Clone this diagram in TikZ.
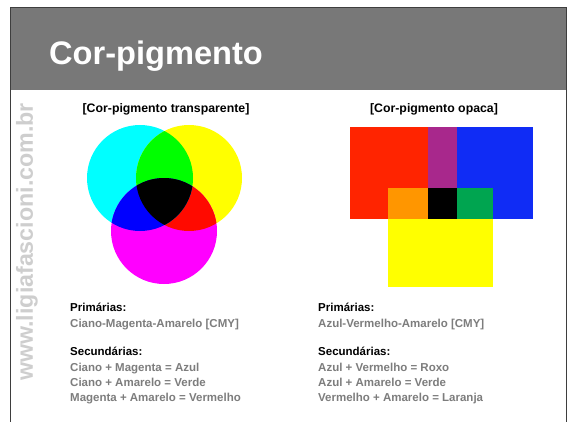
\documentclass[tikz,border=0pt]{standalone}
\usepackage{fontspec}
\setmainfont{Liberation Sans}
\definecolor{bargray}{RGB}{120,120,120}
\definecolor{bardark}{RGB}{62,62,62}
\definecolor{wmgray}{RGB}{206,206,206}
\definecolor{txtgray}{RGB}{125,125,125}
\definecolor{cC}{RGB}{0,255,255}
\definecolor{cY}{RGB}{255,255,0}
\definecolor{cM}{RGB}{255,0,255}
\definecolor{cG}{RGB}{0,255,0}
\definecolor{cB}{RGB}{0,0,255}
\definecolor{cR}{RGB}{255,10,0}
\definecolor{oRed}{RGB}{255,36,0}
\definecolor{oBlue}{RGB}{16,44,245}
\definecolor{oPurple}{RGB}{168,40,140}
\definecolor{oOrange}{RGB}{255,150,0}
\definecolor{oGreen}{RGB}{0,165,80}
\definecolor{oYellow}{RGB}{255,255,0}
\begin{document}
\begin{tikzpicture}[x=1pt,y=-1pt,
  head/.style={anchor=base, inner sep=0pt, font=\fontsize{12.3}{14}\selectfont\bfseries, text=black},
  lblbold/.style={anchor=base west, inner sep=0pt, font=\fontsize{11.5}{14}\selectfont\bfseries, text=black},
  lblgray/.style={anchor=base west, inner sep=0pt, font=\fontsize{11.5}{14}\selectfont\bfseries, text=txtgray},
  frameline/.style={draw=bardark, line width=1.5pt}]
\useasboundingbox (0,0) rectangle (569,422);
\fill[white] (0,0) rectangle (569,422);
% frame and title bar
\fill[bargray] (10,7) rectangle (567,90);
\draw[frameline] (10.5,422) -- (10.5,7.5) -- (566.5,7.5) -- (566.5,422);
\node[anchor=base west, inner sep=0pt, font=\fontsize{32.6}{38}\selectfont\bfseries, text=white] (title) at (49,65) {Cor-pigmento};
% watermark
\node[rotate=90, inner sep=0pt, font=\fontsize{23.2}{26}\selectfont\bfseries, text=wmgray] (wm) at (27,242) {www.ligiafascioni.com.br};
% headings
\node[head] (h1) at (166,113) {[Cor-pigmento transparente]};
\node[head] (h2) at (434,113) {[Cor-pigmento opaca]};
% transparent circles
\coordinate (cc) at (140,178);
\coordinate (yc) at (189,178);
\coordinate (mc) at (164,231);
\fill[cC] (cc) circle[radius=53pt];
\fill[cY] (yc) circle[radius=53pt];
\fill[cM] (mc) circle[radius=53pt];
\begin{scope}
  \clip (yc) circle[radius=53pt];
  \fill[cR] (mc) circle[radius=53pt];
\end{scope}
\begin{scope}
  \clip (cc) circle[radius=53pt];
  \fill[cG] (yc) circle[radius=53pt];
  \fill[cB] (mc) circle[radius=53pt];
  \clip (yc) circle[radius=53pt];
  \fill[black] (mc) circle[radius=53pt];
\end{scope}
% opaque rectangles
\fill[oRed] (350,127) rectangle (428,219);
\fill[oPurple] (428,127) rectangle (457,188);
\fill[oBlue] (457,127) rectangle (533,219);
\fill[oYellow] (388,219) rectangle (493,287);
\fill[oOrange] (388,188) rectangle (428,219);
\fill[black] (428,188) rectangle (457,219);
\fill[oGreen] (457,188) rectangle (493,219);
% left texts
\node[lblbold] (lp) at (70,311) {Primárias:};
\node[lblgray] (lp1) at (70,327) {Ciano-Magenta-Amarelo [CMY]};
\node[lblbold] (ls) at (70,355) {Secundárias:};
\node[lblgray] (ls1) at (70,371) {Ciano + Magenta = Azul};
\node[lblgray] (ls2) at (70,386) {Ciano + Amarelo = Verde};
\node[lblgray] (ls3) at (70,401) {Magenta + Amarelo = Vermelho};
% right texts
\node[lblbold] (rp) at (318,311) {Primárias:};
\node[lblgray] (rp1) at (318,327) {Azul-Vermelho-Amarelo [CMY]};
\node[lblbold] (rs) at (318,355) {Secundárias:};
\node[lblgray] (rs1) at (318,371) {Azul + Vermelho = Roxo};
\node[lblgray] (rs2) at (318,386) {Azul + Amarelo = Verde};
\node[lblgray] (rs3) at (318,401) {Vermelho + Amarelo = Laranja};
\end{tikzpicture}
\end{document}
